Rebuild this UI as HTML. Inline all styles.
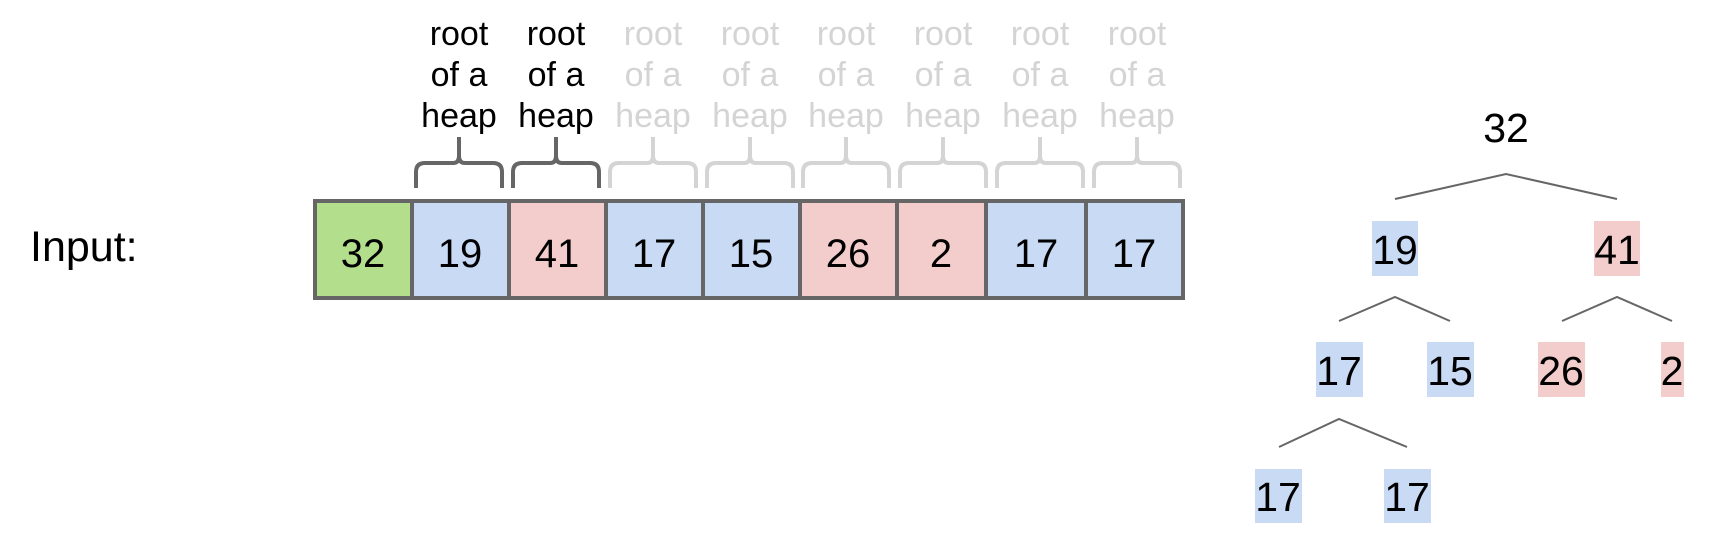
<!DOCTYPE html>
<html><head><style>
html,body{margin:0;padding:0;background:#fff;}
svg{display:block;}
</style></head><body>
<svg width="1714" height="541" viewBox="0 0 1714 541" xmlns="http://www.w3.org/2000/svg">
<text x="30" y="261" font-family="Liberation Sans, sans-serif" font-size="43" fill="#000">Input:</text>
<g font-family="Liberation Sans, sans-serif" font-size="34" text-anchor="middle">
<g fill="#000">
<text x="459" y="45">root</text><text x="459" y="86">of a</text><text x="459" y="127">heap</text>
<text x="556" y="45">root</text><text x="556" y="86">of a</text><text x="556" y="127">heap</text>
</g>
<g fill="#d4d4d4">
<text x="653" y="45">root</text><text x="653" y="86">of a</text><text x="653" y="127">heap</text>
<text x="750" y="45">root</text><text x="750" y="86">of a</text><text x="750" y="127">heap</text>
<text x="846" y="45">root</text><text x="846" y="86">of a</text><text x="846" y="127">heap</text>
<text x="943" y="45">root</text><text x="943" y="86">of a</text><text x="943" y="127">heap</text>
<text x="1040" y="45">root</text><text x="1040" y="86">of a</text><text x="1040" y="127">heap</text>
<text x="1137" y="45">root</text><text x="1137" y="86">of a</text><text x="1137" y="127">heap</text>
</g>
</g>
<defs>
<path id="br" d="M-43,188 L-43,172 Q-43,163 -34,163 L-6,163 Q0,163 0,156 L0,137 M0,137 L0,156 Q0,163 6,163 L34,163 Q43,163 43,172 L43,188" fill="none" stroke-width="4"/>
</defs>
<g stroke="#666"><use href="#br" x="459"/><use href="#br" x="556"/></g>
<g stroke="#d4d4d4"><use href="#br" x="653"/><use href="#br" x="750"/><use href="#br" x="846"/><use href="#br" x="943"/><use href="#br" x="1040"/><use href="#br" x="1137"/></g>
<g stroke="#666" stroke-width="4">
<rect x="315" y="201" width="97" height="97" fill="#b3de8c"/>
<rect x="412" y="201" width="97" height="97" fill="#c9daf5"/>
<rect x="509" y="201" width="97" height="97" fill="#f3cccc"/>
<rect x="606" y="201" width="97" height="97" fill="#c9daf5"/>
<rect x="703" y="201" width="97" height="97" fill="#c9daf5"/>
<rect x="800" y="201" width="97" height="97" fill="#f3cccc"/>
<rect x="897" y="201" width="89" height="97" fill="#f3cccc"/>
<rect x="986" y="201" width="100" height="97" fill="#c9daf5"/>
<rect x="1086" y="201" width="97" height="97" fill="#c9daf5"/>
</g>
<g font-family="Liberation Sans, sans-serif" font-size="40" text-anchor="middle" fill="#000">
<text x="363" y="267">32</text><text x="460" y="267">19</text><text x="557" y="267">41</text>
<text x="654" y="267">17</text><text x="751" y="267">15</text><text x="848" y="267">26</text>
<text x="941" y="267">2</text><text x="1036" y="267">17</text><text x="1134" y="267">17</text>
</g>
<g fill="#c9daf5">
<rect x="1372" y="221" width="46" height="55"/>
<rect x="1316" y="342" width="47" height="55"/>
<rect x="1427" y="342" width="47" height="55"/>
<rect x="1255" y="469" width="47" height="54"/>
<rect x="1384" y="469" width="47" height="54"/>
</g>
<g fill="#f3cccc">
<rect x="1594" y="221" width="46" height="55"/>
<rect x="1538" y="342" width="47" height="55"/>
<rect x="1661" y="342" width="23" height="55"/>
</g>
<g stroke="#666" stroke-width="2" fill="none">
<polyline points="1395,199 1506,174 1617,199"/>
<polyline points="1339,321 1395,297 1450,321"/>
<polyline points="1562,321 1617,297 1672,321"/>
<polyline points="1279,447 1339,419 1407,447"/>
</g>
<g font-family="Liberation Sans, sans-serif" font-size="41" text-anchor="middle" fill="#000">
<text x="1506" y="142">32</text>
<text x="1395" y="264">19</text><text x="1617" y="264">41</text>
<text x="1339" y="385">17</text><text x="1450" y="385">15</text><text x="1561" y="385">26</text><text x="1672" y="385">2</text>
<text x="1278" y="511">17</text><text x="1407" y="511">17</text>
</g>
</svg>
</body></html>
